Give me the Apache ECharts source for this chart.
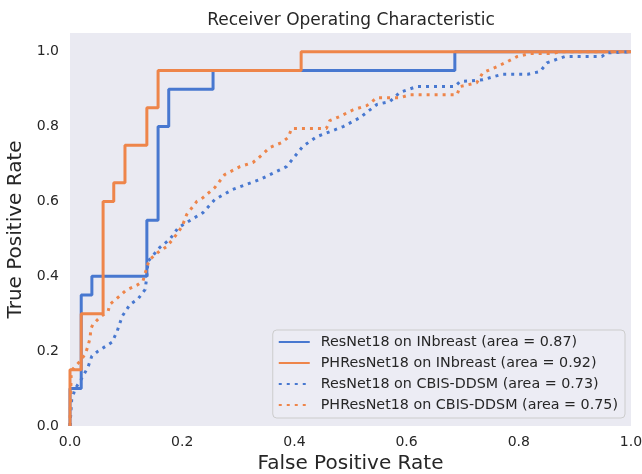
<!DOCTYPE html>
<html>
<head>
<meta charset="utf-8">
<script src="https://cdn.jsdelivr.net/npm/echarts@6/dist/echarts.min.js"></script>
<style>
  html, body { margin: 0; padding: 0; background: #fff; }
  #roc_chart { width: 642px; height: 474px; }
</style>
</head>
<body>
<div id="roc_chart"></div>
<script>
// legend names
var seriesNames = [
    'ResNet18 on INbreast (area = 0.87)',
    'PHResNet18 on INbreast (area = 0.92)',
    'ResNet18 on CBIS-DDSM (area = 0.73)',
    'PHResNet18 on CBIS-DDSM (area = 0.75)'
];

// INbreast curves are step curves: [fpr, tpr] corners
var resnetInbreast = [
    [0, 0], [0, 0.10], [0.020, 0.10], [0.020, 0.35], [0.039, 0.35], [0.039, 0.40],
    [0.137, 0.40], [0.137, 0.55], [0.157, 0.55], [0.157, 0.80], [0.176, 0.80],
    [0.176, 0.90], [0.255, 0.90], [0.255, 0.95], [0.686, 0.95], [0.686, 1.0], [1, 1]
];
var phresnetInbreast = [
    [0, 0], [0, 0.15], [0.020, 0.15], [0.020, 0.30], [0.059, 0.30], [0.059, 0.60],
    [0.078, 0.60], [0.078, 0.65], [0.098, 0.65], [0.098, 0.75], [0.137, 0.75],
    [0.137, 0.85], [0.157, 0.85], [0.157, 0.95], [0.412, 0.95], [0.412, 1.0], [1, 1]
];

// CBIS-DDSM curves (dotted)
var resnetCbis = [
    [0, 0], [0.003, 0.07], [0.009, 0.099], [0.020, 0.125], [0.032, 0.157], [0.039, 0.187],
    [0.050, 0.200], [0.075, 0.224], [0.084, 0.253], [0.093, 0.293], [0.107, 0.325],
    [0.121, 0.339], [0.134, 0.365], [0.137, 0.400], [0.139, 0.440], [0.160, 0.477],
    [0.178, 0.499], [0.193, 0.530], [0.237, 0.570], [0.258, 0.605], [0.290, 0.632],
    [0.339, 0.659], [0.386, 0.693], [0.415, 0.747], [0.440, 0.773], [0.487, 0.800],
    [0.517, 0.824], [0.547, 0.859], [0.570, 0.867], [0.588, 0.891], [0.618, 0.907],
    [0.686, 0.907], [0.695, 0.920], [0.736, 0.925], [0.754, 0.933], [0.772, 0.940],
    [0.816, 0.940], [0.838, 0.947], [0.850, 0.970], [0.870, 0.981], [0.882, 0.987],
    [0.948, 0.987], [0.957, 0.997], [1, 1]
];
var phresnetCbis = [
    [0, 0], [0.002, 0.133], [0.005, 0.152], [0.018, 0.173], [0.027, 0.192], [0.032, 0.213],
    [0.036, 0.237], [0.037, 0.259], [0.041, 0.272], [0.053, 0.290], [0.068, 0.307],
    [0.071, 0.325], [0.086, 0.344], [0.100, 0.363], [0.119, 0.376], [0.130, 0.387],
    [0.135, 0.413], [0.141, 0.443], [0.157, 0.464], [0.173, 0.480], [0.190, 0.512],
    [0.200, 0.534], [0.208, 0.565], [0.226, 0.600], [0.237, 0.610], [0.258, 0.637],
    [0.276, 0.672], [0.303, 0.693], [0.326, 0.704], [0.339, 0.720], [0.356, 0.744],
    [0.377, 0.757], [0.389, 0.771], [0.395, 0.795], [0.457, 0.795], [0.463, 0.816],
    [0.481, 0.827], [0.505, 0.845], [0.529, 0.856], [0.547, 0.877], [0.588, 0.877],
    [0.606, 0.885], [0.690, 0.885], [0.695, 0.907], [0.725, 0.917], [0.736, 0.944],
    [0.761, 0.960], [0.779, 0.973], [0.797, 0.987], [0.820, 0.995], [0.860, 0.995],
    [0.873, 1.0], [1, 1]
];

var xTicks = [0, 0.2, 0.4, 0.6, 0.8, 1.0];
var yTicks = [0, 0.2, 0.4, 0.6, 0.8, 1.0];

var blue = '#4878d0', orange = '#ee854a';
var font = 'DejaVu Sans';

function makeSeries(name, data, color, dotted) {
    return {
        name: name,
        type: 'line',
        data: data,
        symbol: 'none',
        silent: true,
        animation: false,
        lineStyle: {
            color: color,
            width: 3,
            type: dotted ? [3, 5] : 'solid',
            cap: 'butt'
        },
        itemStyle: { color: color }
    };
}

function tickText(list) {
    return function(v) {
        var r = +v.toFixed(1);
        return (list.indexOf(r) >= 0 && Math.abs(v - r) < 1e-6) ? r.toFixed(1) : '';
    };
}

var myChart = echarts.init(document.getElementById('roc_chart'), null, { renderer: 'canvas' });
var option = {
    backgroundColor: '#ffffff',
    animation: false,
    title: {
        text: 'Receiver Operating Characteristic',
        left: 346,
        textAlign: 'center',
        top: 7,
        textStyle: { fontFamily: font, fontSize: 17, fontWeight: 'normal', color: '#262626' }
    },
    grid: {
        left: 70, right: 11, top: 33, bottom: 48,
        outerBoundsMode: 'none',
        containLabel: false,
        show: true,
        backgroundColor: '#eaeaf2',
        borderWidth: 0
    },
    legend: {
        right: 17,
        bottom: 56,
        orient: 'vertical',
        itemWidth: 31,
        itemHeight: 14,
        itemGap: 7,
        padding: [5, 7, 6, 5],
        backgroundColor: 'rgba(236,236,244,0.9)',
        borderColor: '#cccccc',
        borderWidth: 1,
        borderRadius: 4,
        itemStyle: { opacity: 0 },
        textStyle: { fontFamily: font, fontSize: 14.3, color: '#262626', lineHeight: 14, padding: [0, 0, 0, 6] },
        data: seriesNames.map(function(n) { return { name: n }; })
    },
    xAxis: {
        type: 'value',
        min: 0,
        max: 1,
        interval: 0.2,
        name: 'False Positive Rate',
        nameLocation: 'middle',
        nameGap: 26,
        nameTextStyle: { fontFamily: font, fontSize: 20, color: '#262626' },
        axisLine: { show: false },
        axisTick: { show: false },
        splitLine: { show: false },
        axisLabel: {
            fontFamily: font, fontSize: 14, color: '#262626', margin: 9,
            formatter: tickText(xTicks)
        }
    },
    yAxis: {
        type: 'value',
        min: 0,
        max: 1.05,
        interval: 0.2,
        name: 'True Positive Rate',
        nameLocation: 'middle',
        nameGap: 37,
        nameTextStyle: { fontFamily: font, fontSize: 20, color: '#262626' },
        axisLine: { show: false },
        axisTick: { show: false },
        splitLine: { show: false },
        axisLabel: {
            fontFamily: font, fontSize: 14, color: '#262626', margin: 11,
            showMaxLabel: false,
            formatter: tickText(yTicks)
        }
    },
    series: [
        makeSeries(seriesNames[0], resnetInbreast, blue, false),
        makeSeries(seriesNames[1], phresnetInbreast, orange, false),
        makeSeries(seriesNames[2], resnetCbis, blue, true),
        makeSeries(seriesNames[3], phresnetCbis, orange, true)
    ]
};
myChart.setOption(option);
</script>
</body>
</html>
